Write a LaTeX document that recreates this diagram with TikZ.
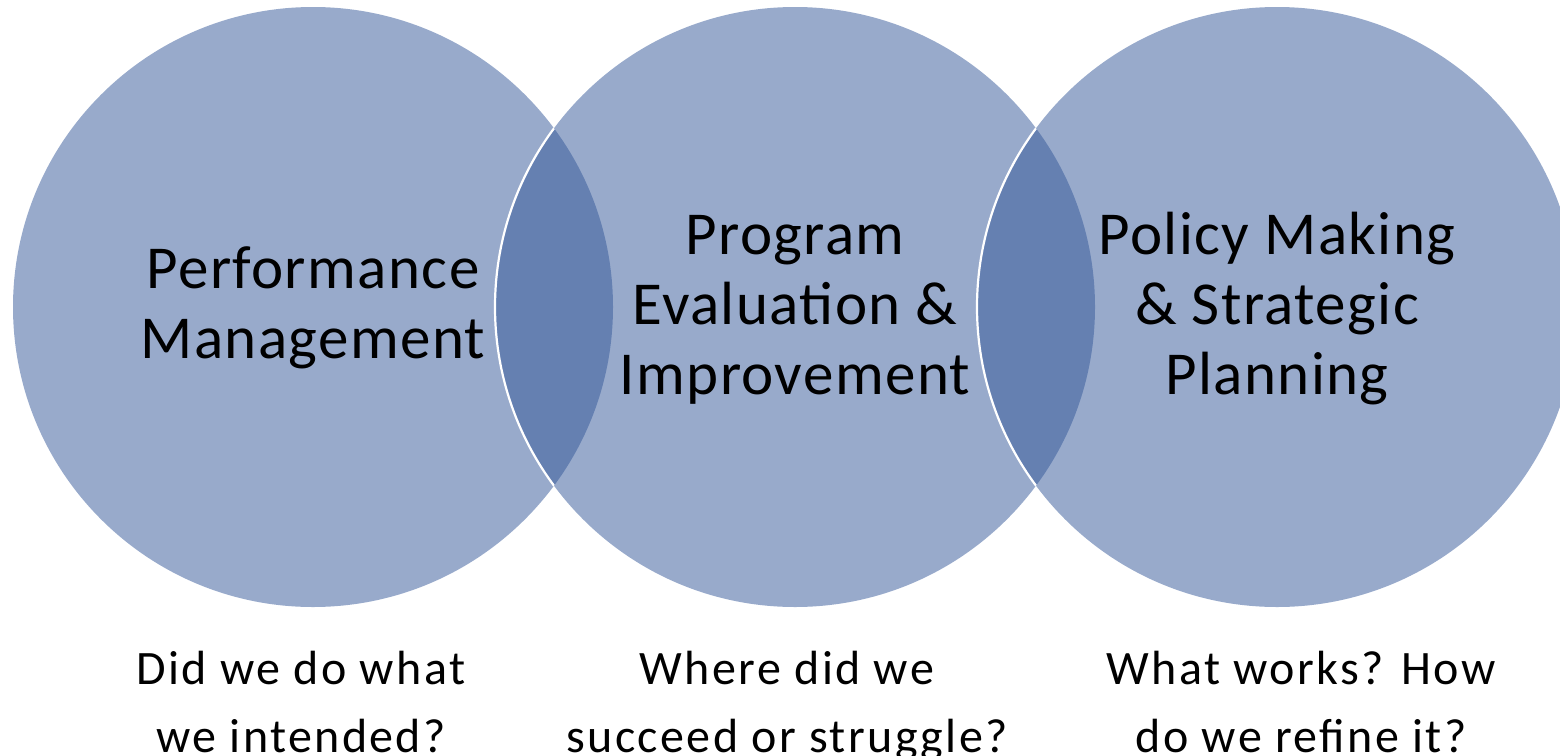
\documentclass[tikz,border=0pt]{standalone}
\usepackage{fontspec}
\setmainfont{Carlito}
\definecolor{vennblue}{RGB}{50,86,152}
\tikzset{
  venn/.style={circle, minimum size=600pt, inner sep=0pt, fill=vennblue, fill opacity=0.5, draw=none},
  title/.style={align=center, text=black, anchor=base, inner sep=0pt,
    font=\fontsize{61}{70}\selectfont\addfontfeatures{LetterSpace=2.3}},
  question/.style={align=center, text=black, anchor=base, inner sep=0pt,
    font=\fontsize{48}{68}\selectfont\addfontfeatures{LetterSpace=5}},
  rim/.style={draw=white, line width=2.2pt}
}
\begin{document}
\begin{tikzpicture}[x=1pt,y=-1pt]
\useasboundingbox (0,0) rectangle (1560,755);
\clip (0,0) rectangle (1560,755);
\node[venn] (c1) at (313,307) {};
\node[venn] (c2) at (795,307) {};
\node[venn] (c3) at (1277,307) {};
\begin{scope}
  \clip (313,307) circle[radius=300pt];
  \draw[rim] (795,307) circle[radius=300pt];
\end{scope}
\begin{scope}
  \clip (795,307) circle[radius=300pt];
  \draw[rim] (1277,307) circle[radius=300pt];
\end{scope}
\node[title] (t1) at (313,358) {Performance\\Management};
\node[title] (t2) at (795,394) {Program\\Evaluation \&\\Improvement};
\node[title] (t3) at (1277,394) {Policy Making\\\& Strategic\\Planning};
\node[question] (q1) at (301,752) {Did we do what\\we intended?};
\node[question] (q2) at (787,752) {Where did we\\succeed or struggle?};
\node[question] (q3) at (1301,752) {What works? How\\do we refine it?};
\end{tikzpicture}
\end{document}
